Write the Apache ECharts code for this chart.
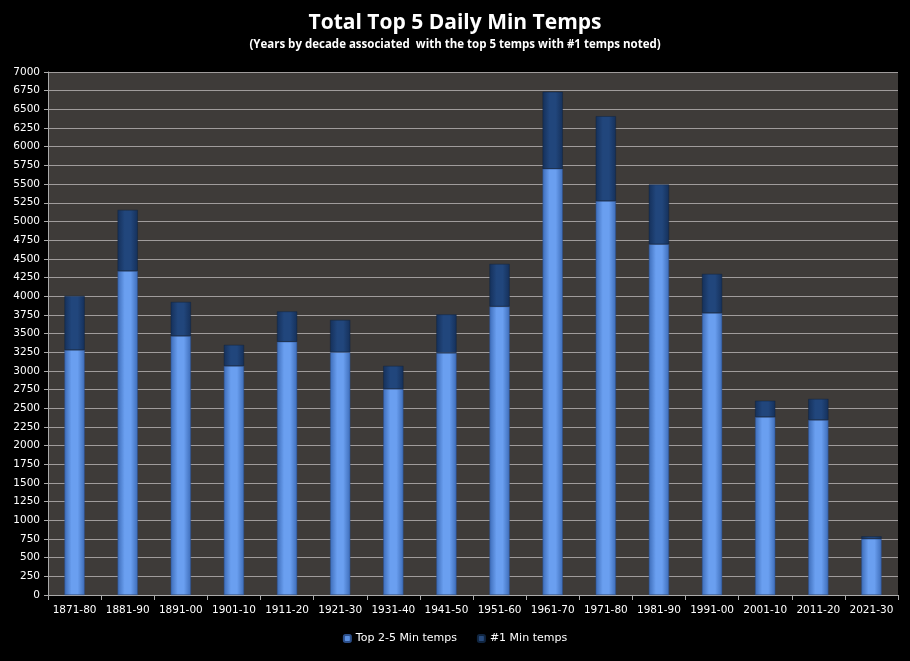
<!DOCTYPE html>
<html><head><meta charset="utf-8">
<script src="https://cdn.jsdelivr.net/npm/echarts@6/dist/echarts.min.js"></script>
<style>html,body{margin:0;padding:0;background:#000;}#c{width:910px;height:661px;}</style>
</head><body><div id="c"></div>
<script>
var categories = ['1871-80','1881-90','1891-00','1901-10','1911-20','1921-30','1931-40','1941-50','1951-60','1961-70','1971-80','1981-90','1991-00','2001-10','2011-20','2021-30'];
var top25 = [3280,4337,3467,3066,3390,3250,2758,3240,3862,5705,5274,4695,3775,2383,2343,752];
var totals = [4003,5154,3922,3347,3795,3681,3066,3755,4431,6735,6408,5495,4297,2600,2624,785];
var first = totals.map(function(t,i){return t - top25[i];});
var yTicks = {min:0, max:7000, interval:250};

var chart = echarts.init(document.getElementById('c'));
function grad(c1,c2){return new echarts.graphic.LinearGradient(0,0,1,0,[{offset:0,color:c2},{offset:0.35,color:c1},{offset:0.65,color:c1},{offset:1,color:c2}]);}
chart.setOption({
  backgroundColor:'#000',
  animation:false,
  title:{text:'Total Top 5 Daily Min Temps',subtext:'(Years by decade associated  with the top 5 temps with #1 temps noted)',left:'center',top:8,itemGap:5,
    textStyle:{color:'#fff',fontSize:21,fontWeight:'bold',fontFamily:'"Open Sans",sans-serif'},
    subtextStyle:{color:'#fff',fontSize:11.5,fontWeight:'bold',fontFamily:'"Open Sans",sans-serif'}},
  legend:{bottom:12,left:'center',itemWidth:7,itemHeight:7,itemGap:20,textStyle:{color:'#fff',fontSize:11,fontFamily:'"DejaVu Sans",sans-serif'},
    data:[{name:'Top 2-5 Min temps',itemStyle:{color:'#5b8fe0'}},{name:'#1 Min temps',itemStyle:{color:'#274a7c'}}]},
  grid:{left:48,right:12,top:72,bottom:66,show:true,backgroundColor:'#3e3b39',borderColor:'#888',borderWidth:0},
  xAxis:{type:'category',data:categories,axisLine:{lineStyle:{color:'#aaa'}},axisTick:{show:true,lineStyle:{color:'#aaa'}},
    axisLabel:{color:'#fff',fontSize:10.5,margin:10,interval:0,fontFamily:'"DejaVu Sans",sans-serif'}},
  yAxis:{type:'value',min:yTicks.min,max:yTicks.max,interval:yTicks.interval,
    axisLine:{show:true,lineStyle:{color:'#aaa'}},axisTick:{show:true,length:4,lineStyle:{color:'#aaa'}},
    axisLabel:{color:'#fff',fontSize:10.5,margin:8,formatter:function(v){return String(v);},fontFamily:'"DejaVu Sans",sans-serif'},
    splitLine:{lineStyle:{color:'#a09c9c',width:1}}},
  series:[
    {name:'Top 2-5 Min temps',type:'bar',stack:'a',data:top25,barWidth:'38%',
      itemStyle:{color:grad('#6a9ff0','#3d6cb8'),borderColor:'#2c4f8a',borderWidth:0.5}},
    {name:'#1 Min temps',type:'bar',stack:'a',data:first,barWidth:'38%',
      itemStyle:{color:grad('#21467c','#15305a'),borderColor:'#102540',borderWidth:0.5}}
  ]
});
</script></body></html>
